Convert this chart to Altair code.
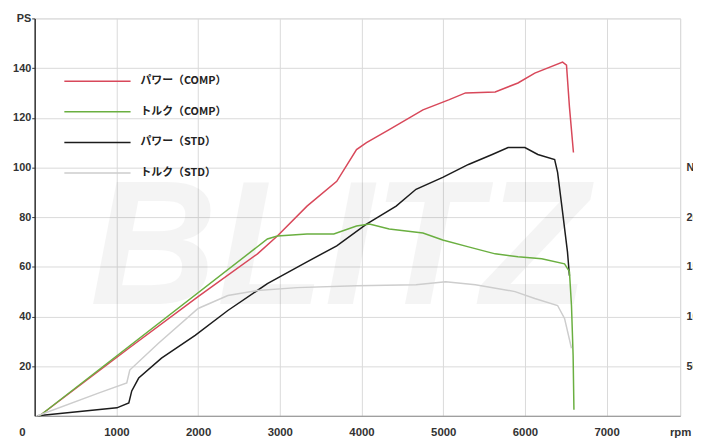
import altair as alt
import pandas as pd

series_names = ["パワー（COMP）", "トルク（COMP）", "パワー（STD）", "トルク（STD）"]
series_colors = ["#d8485a", "#6aaf40", "#1c1c1c", "#cdcdcd"]

# Power COMP (PS)
pc_rpm = [61, 1152, 2000, 2727, 2970, 3333, 3697, 3939, 4061, 4339, 4752, 5067, 5273, 5636, 5915, 6121, 6461, 6509, 6545, 6594]
pc_ps = [0, 27.2, 48, 65.2, 72.4, 84.4, 94.4, 107.2, 110, 115.2, 123.2, 127.2, 130, 130.4, 134, 138, 142.4, 141.2, 124.4, 106]

# Torque COMP (N·m)
tc_rpm = [61, 2848, 2970, 3333, 3661, 3939, 4097, 4339, 4752, 4994, 5309, 5636, 5915, 6206, 6485, 6545, 6570, 6590, 6600]
tc_nm = [0, 178, 181, 183, 183, 191, 193, 188, 184, 177, 170, 163, 160, 158, 153, 145, 111, 61, 6]

# Power STD (PS)
ps_rpm = [36, 1006, 1152, 1188, 1273, 1552, 1964, 2364, 2848, 3333, 3697, 4061, 4424, 4667, 4994, 5309, 5600, 5794, 6000, 6158, 6364, 6400, 6461, 6521, 6545]
ps_ps = [0, 3.2, 5.2, 10, 15.2, 23.2, 32.4, 42.4, 53.2, 62, 68.4, 77.2, 84.4, 91.2, 96, 101.2, 105.2, 108, 108, 105.2, 103.2, 98, 82, 66, 56.4]

# Torque STD (N·m)
ts_rpm = [36, 788, 1127, 1164, 1515, 2000, 2364, 2727, 3212, 3939, 4667, 5030, 5394, 5879, 6121, 6400, 6485, 6570]
ts_nm = [0, 23, 33, 46, 73, 108, 121, 126, 129, 131, 132, 135, 132, 125, 118, 111, 98, 68]

x_ticks = [0, 1000, 2000, 3000, 4000, 5000, 6000, 7000, 7900]
ps_ticks = [20, 40, 60, 80, 100, 120, 140, 160]
nm_ticks = [50, 100, 150, 200, 250]


def frame(name, xs, ys):
    return pd.DataFrame({"rpm": xs, "v": ys, "series": name, "i": list(range(len(xs)))})


power = pd.concat([frame(series_names[0], pc_rpm, pc_ps), frame(series_names[2], ps_rpm, ps_ps)])
torque = pd.concat([frame(series_names[1], tc_rpm, tc_nm), frame(series_names[3], ts_rpm, ts_nm)])

FONT = "Liberation Sans"

legend = alt.Legend(
    orient="none", legendX=57.5, legendY=57.5, title=None, padding=0,
    symbolType="M-6.7,0H6.7", symbolSize=100, symbolStrokeWidth=1.5,
    labelOffset=37.5, rowPadding=20,
    labelFont="Noto Sans CJK JP", labelFontSize=11, labelFontWeight="bold", labelColor="#222",
)

color = alt.Color("series:N", scale=alt.Scale(domain=series_names, range=series_colors), legend=legend)

x_enc = alt.X(
    "rpm:Q", scale=alt.Scale(domain=[0, 7900], nice=False, zero=False),
    axis=alt.Axis(
        values=x_ticks, format="d", title=None,
        labelExpr="datum.value == 7900 ? 'rpm' : datum.label",
        labelOffset={"condition": {"test": "datum.value == 0", "value": -13}, "value": 0},
        ticks=False, labelPadding=11, labelFont=FONT, labelFontSize=11.5, labelFontWeight="bold",
        labelColor="#333", grid=True, gridColor="#dadada", domainColor="#888", labelFlush=False,
    ),
)

water = alt.Chart(pd.DataFrame({"t": ["BLITZ"]})).mark_text(
    font=FONT, fontSize=178, fontStyle="italic", fontWeight="bold",
    color="#000", opacity=0.04, baseline="middle", align="center",
).encode(text="t:N", x=alt.value(308), y=alt.value(236))

p_lines = alt.Chart(power).mark_line(strokeWidth=1.5).encode(
    x=x_enc,
    y=alt.Y("v:Q", scale=alt.Scale(domain=[0, 160], nice=False),
            axis=alt.Axis(values=ps_ticks, orient="left", title=None,
                          labelExpr="datum.value == 160 ? 'PS' : datum.label",
                          tickSize=3, tickColor="#333", labelPadding=1,
                          labelFont=FONT, labelFontSize=11, labelFontWeight="bold", labelColor="#333",
                          grid=True, gridColor="#dadada", domainColor="#333", domainWidth=1.5)),
    color=color, order="i:Q",
)

t_lines = alt.Chart(torque).mark_line(strokeWidth=1.5).encode(
    x=x_enc,
    y=alt.Y("v:Q", scale=alt.Scale(domain=[0, 400], nice=False),
            axis=alt.Axis(values=nm_ticks, orient="right", title=None,
                          labelExpr="datum.value == 250 ? 'N·m' : datum.label",
                          ticks=False, domain=False, grid=False, labelPadding=6,
                          labelFont=FONT, labelFontSize=11, labelFontWeight="bold", labelColor="#333")),
    color=color, order="i:Q",
)

chart = alt.layer(water, p_lines, t_lines).resolve_scale(y="independent").properties(
    width=653, height=402,
    autosize=alt.AutoSizeParams(type="none"),
    padding={"left": 27, "top": 8, "right": 13, "bottom": 25},
).configure_view(stroke="#9a9a9a", strokeWidth=1).configure(background="white")

chart.save("out.html", embed_options={"renderer": "svg", "actions": False})
